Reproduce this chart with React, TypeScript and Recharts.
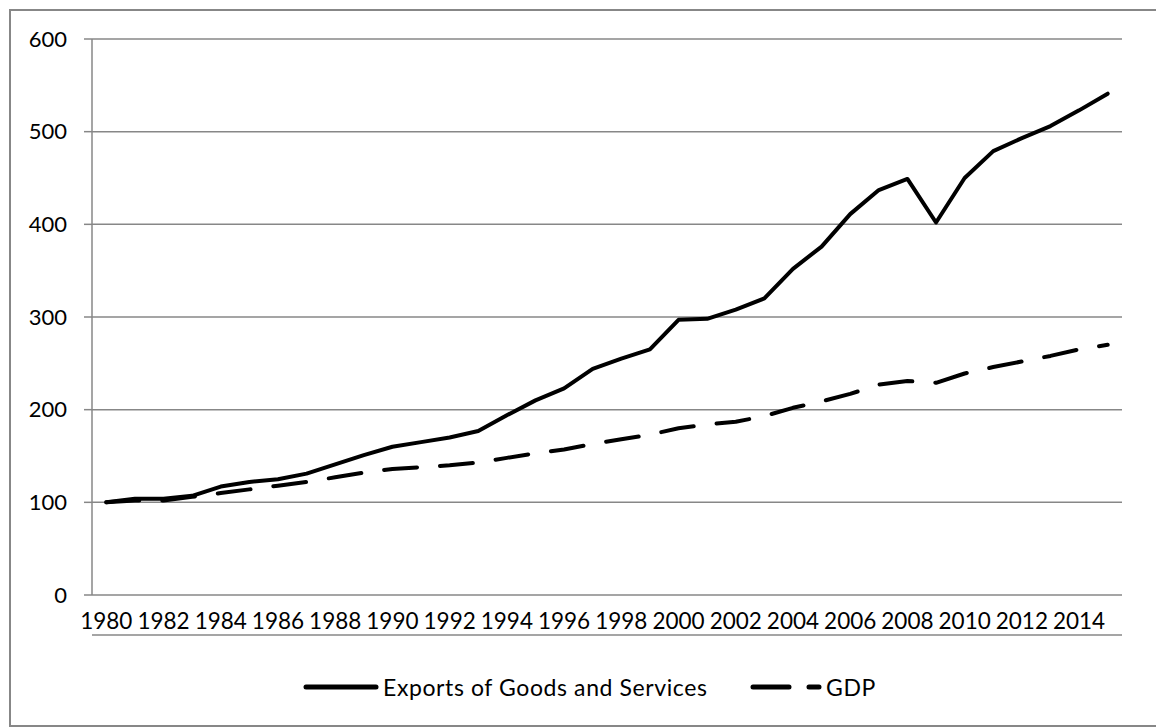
import { LineChart, Line, XAxis, YAxis, CartesianGrid } from "recharts";

const YEARS = [
  1980, 1981, 1982, 1983, 1984, 1985, 1986, 1987, 1988, 1989, 1990, 1991,
  1992, 1993, 1994, 1995, 1996, 1997, 1998, 1999, 2000, 2001, 2002, 2003,
  2004, 2005, 2006, 2007, 2008, 2009, 2010, 2011, 2012, 2013, 2014, 2015,
];

// index, 1980 = 100
const EXPORTS = [
  100, 104, 104, 107, 117, 122, 125, 131, 141, 151, 160, 165,
  170, 177, 194, 210, 223, 244, 255, 265, 297, 298, 308, 320,
  352, 376, 411, 437, 449, 402, 450, 479, 493, 506, 523, 541,
];

const GDP = [
  100, 102, 102, 106, 110, 114, 118, 122, 127, 132, 136, 138,
  140, 143, 148, 153, 157, 163, 168, 173, 180, 184, 187, 193,
  202, 209, 217, 227, 231, 229, 239, 246, 252, 258, 265, 270,
];

const YEAR_LABELS = [
  1980, 1982, 1984, 1986, 1988, 1990, 1992, 1994, 1996,
  1998, 2000, 2002, 2004, 2006, 2008, 2010, 2012, 2014,
];
const VALUE_TICKS = [0, 100, 200, 300, 400, 500, 600];

const EXPORTS_NAME = "Exports of Goods and Services";
const GDP_NAME = "GDP";

const data = YEARS.map((year, i) => ({
  year,
  exports: EXPORTS[i],
  gdp: GDP[i],
}));

// tick marks sit on the boundaries between years
const yearEdges = [
  ...YEARS.map((y) => y - 0.5),
  YEARS[YEARS.length - 1] + 0.5,
];
const xDomain = [yearEdges[0], yearEdges[yearEdges.length - 1]];

const GREY = "#878787";
const FONT = "Lato, 'Open Sans', sans-serif";
const xTickFont = { fontFamily: FONT, fontSize: 22.5, fill: "#000" };
const yTickFont = { fontFamily: FONT, fontSize: 22, fill: "#000" };
const DASH = "33 23";

const legendText = {
  fontFamily: FONT,
  fontSize: 23,
  letterSpacing: 0.6,
  color: "#000",
  whiteSpace: "nowrap" as const,
};

function LegendItem({
  left,
  label,
  dash,
}: {
  left: number;
  label: string;
  dash?: string;
}) {
  return (
    <div
      style={{
        position: "absolute",
        left,
        top: 672,
        height: 30,
        display: "flex",
        alignItems: "center",
        ...legendText,
      }}
    >
      <svg width={76} height={12}>
        <line
          x1={dash ? 4 : 3}
          y1={6}
          x2={dash ? 70 : 73}
          y2={6}
          stroke="#000"
          strokeWidth={5}
          strokeLinecap="round"
          strokeDasharray={dash}
        />
      </svg>
      <span style={{ marginLeft: dash ? 1 : 4 }}>{label}</span>
    </div>
  );
}

export default function App() {
  return (
    <div
      style={{
        position: "fixed",
        left: 0,
        top: 0,
        width: 1156,
        height: 728,
        background: "#fff",
        overflow: "hidden",
      }}
    >
      <div
        style={{
          position: "absolute",
          left: 9,
          top: 9,
          width: 1170,
          height: 718,
          boxSizing: "border-box",
          border: `2px solid ${GREY}`,
        }}
      />
      <div style={{ position: "absolute", left: 0, top: 0 }}>
        <LineChart
          width={1156}
          height={728}
          data={data}
          margin={{ top: 39, right: 34, bottom: 83, left: 0 }}
        >
          <CartesianGrid vertical={false} stroke={GREY} strokeWidth={1.5} />
          <XAxis
            xAxisId="edges"
            dataKey="year"
            type="number"
            domain={xDomain}
            allowDataOverflow
            ticks={yearEdges}
            interval={0}
            tick={false}
            tickSize={9}
            height={10}
            axisLine={{ stroke: GREY, strokeWidth: 1.5 }}
            tickLine={{ stroke: GREY, strokeWidth: 1.5 }}
          />
          <XAxis
            dataKey="year"
            type="number"
            domain={xDomain}
            allowDataOverflow
            ticks={YEAR_LABELS}
            interval={0}
            tick={xTickFont}
            tickSize={0}
            tickMargin={18}
            height={40}
            axisLine={false}
            tickLine={false}
          />
          <YAxis
            domain={[0, 600]}
            ticks={VALUE_TICKS}
            interval={0}
            width={92}
            tick={yTickFont}
            tickSize={8}
            tickMargin={17}
            axisLine={{ stroke: GREY, strokeWidth: 1.5 }}
            tickLine={{ stroke: GREY, strokeWidth: 1.5 }}
          />
          <Line
            dataKey="exports"
            name={EXPORTS_NAME}
            type="linear"
            stroke="#000"
            strokeWidth={4}
            strokeLinejoin="round"
            strokeLinecap="round"
            dot={false}
            isAnimationActive={false}
          />
          <Line
            dataKey="gdp"
            name={GDP_NAME}
            type="linear"
            stroke="#000"
            strokeWidth={4}
            strokeDasharray={DASH}
            strokeLinejoin="round"
            strokeLinecap="round"
            dot={false}
            isAnimationActive={false}
          />
        </LineChart>
      </div>
      <LegendItem left={303} label={EXPORTS_NAME} />
      <LegendItem left={749} label={GDP_NAME} dash="36 20" />
    </div>
  );
}
